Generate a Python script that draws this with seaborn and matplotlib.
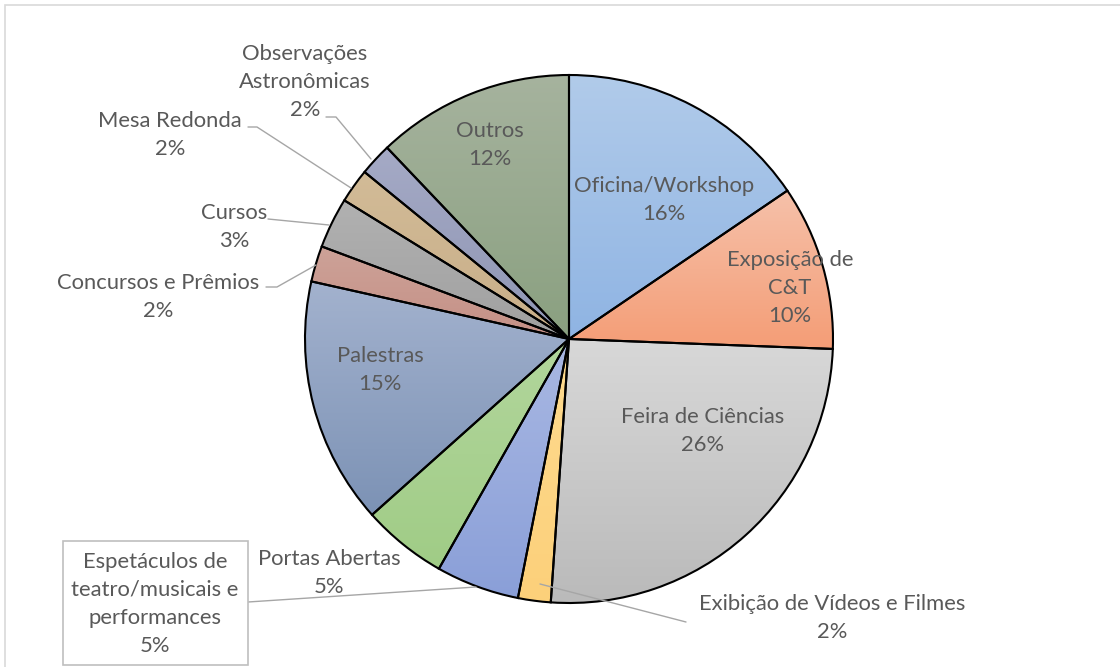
import matplotlib
matplotlib.use("Agg")
import matplotlib.pyplot as plt
from matplotlib.colors import LinearSegmentedColormap
from matplotlib.patches import Rectangle
import numpy as np
import seaborn as sns

# shares of each activity type (percent), clockwise from 12 o'clock
categories = ["Oficina/Workshop", "Exposição de C&T", "Feira de Ciências",
              "Exibição de Vídeos e Filmes",
              "Espetáculos de teatro/musicais e performances",
              "Portas Abertas", "Palestras", "Concursos e Prêmios", "Cursos",
              "Mesa Redonda", "Observações Astronômicas", "Outros"]
shares = [15.5, 10.1, 25.5, 2.0, 5.1, 5.2, 15.1, 2.2, 3.1, 2.1, 2.0, 12.1]

# gradient fill, top -> bottom
top_colors = ["#b1cbea", "#f6c1aa", "#d8d8d8", "#fedb90", "#a9b8e3", "#b2d69c",
              "#a3b2ce", "#cda298", "#b1b1b1", "#d2bb97", "#a5aac6", "#a6b39e"]
bottom_colors = ["#8fb4e3", "#f49d76", "#bababa", "#fcd07a", "#8a9fd8", "#a0cc86",
                 "#7c92b5", "#c59086", "#a0a0a0", "#c8ae88", "#8e95b3", "#8aa080"]

wrapped = {
    "Exposição de C&T": "Exposição de\nC&T",
    "Espetáculos de teatro/musicais e performances": "Espetáculos de\nteatro/musicais e\nperformances",
    "Observações Astronômicas": "Observações\nAstronômicas",
}

# label centres in pixels (x right, y down)
label_px = [(664, 200), (790, 288), (703, 431), (832, 618), (155, 604), (329, 573),
            (380, 370), (158, 297), (234, 227), (170, 135), (305, 82), (490, 145)]

leaders = {
    "Exibição de Vídeos e Filmes": [(686, 622), (540, 584)],
    "Espetáculos de teatro/musicais e performances": [(248, 602), (476, 587)],
    "Concursos e Prêmios": [(266, 287), (277, 287), (316, 265)],
    "Cursos": [(268, 219), (329, 225)],
    "Mesa Redonda": [(248, 127), (257, 127), (351, 188)],
    "Observações Astronômicas": [(326, 117), (336, 117), (371, 159)],
}

W, H = 1120, 667
CX, CY, R = 569, 339, 264


def X(px):
    return (px - CX) / R


def Y(py):
    return (CY - py) / R


sns.set_theme(style="white")
plt.rcParams['font.family'] = ['Lato', 'DejaVu Sans']

fig = plt.figure(figsize=(W / 100, H / 100), dpi=100)
ax = fig.add_axes([0, 0, 1, 1])
ax.axis("off")

wedges, _ = ax.pie(shares, startangle=90, counterclock=False, radius=1,
                   center=(0, 0), normalize=True,
                   wedgeprops=dict(edgecolor="black", linewidth=1.5))

for w, c_top, c_bot in zip(wedges, top_colors, bottom_colors):
    ext = w.get_path().get_extents()
    cmap = LinearSegmentedColormap.from_list("g", [c_bot, c_top])
    grad = np.linspace(1, 0, 256).reshape(-1, 1)
    im = ax.imshow(grad, cmap=cmap, aspect="auto", zorder=1,
                   extent=[ext.x0, ext.x1, ext.y0, ext.y1], interpolation="bilinear")
    im.set_clip_path(w)
    w.set_facecolor("none")
    w.set_zorder(3)

total = sum(shares)
for name, val, (px, py) in zip(categories, shares, label_px):
    txt = f"{wrapped.get(name, name)}\n{val / total * 100:.0f}%"
    ax.text(X(px), Y(py), txt, ha="center", va="center", fontsize=15.8,
            color="#595959", linespacing=1.52, zorder=5)

for name, pts in leaders.items():
    xs = [X(p[0]) for p in pts]
    ys = [Y(p[1]) for p in pts]
    ax.plot(xs, ys, color="#a6a6a6", lw=1, zorder=4)

# boxed label
ax.add_patch(Rectangle((X(63), Y(665)), (248 - 63) / R, (665 - 541) / R,
                       facecolor="white", edgecolor="#bfbfbf", lw=1.2, zorder=4.5))

ax.set_xlim(X(0), X(W))
ax.set_ylim(Y(H), Y(0))

# chart area border
fig.patches.append(Rectangle((5 / W, -0.1), 1.2, (H - 5) / H + 0.1,
                             transform=fig.transFigure, fill=False,
                             edgecolor="#d9d9d9", lw=1.2))

fig.savefig("out.png", dpi=100)
